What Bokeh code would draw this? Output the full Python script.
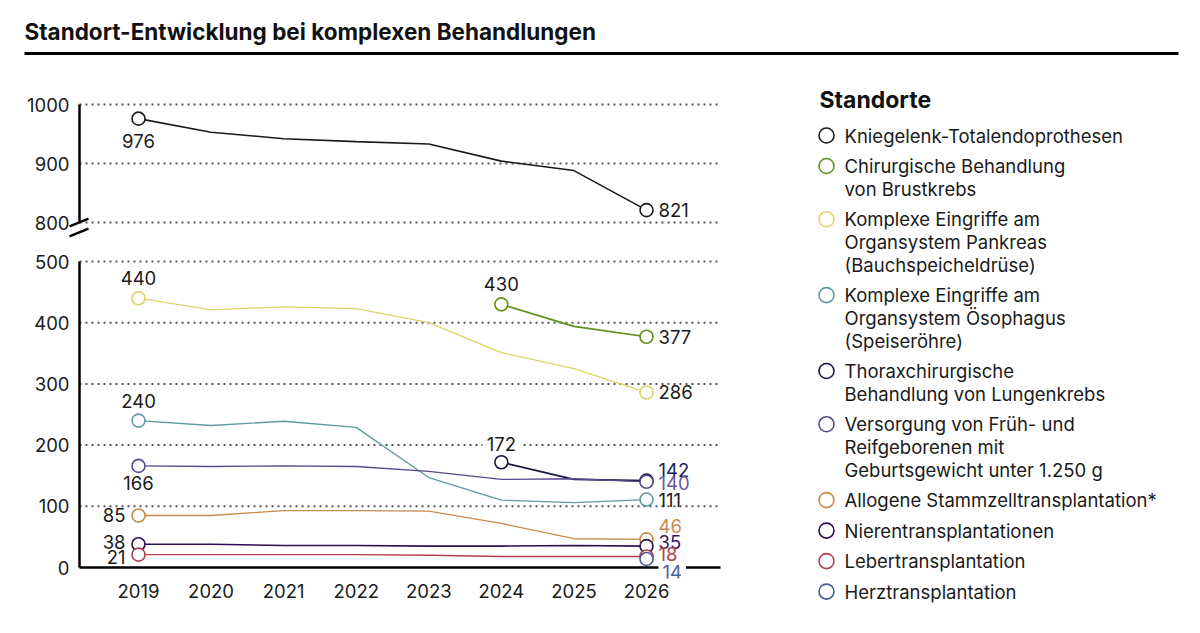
from bokeh.plotting import figure
from bokeh.layouts import column, row
from bokeh.models import Range1d, FixedTicker, Label
from bokeh.core.properties import value
from bokeh.embed import file_html
from bokeh.resources import INLINE
import math

NaN = float("nan")

# ---------------- data ----------------
years = [2019, 2020, 2021, 2022, 2023, 2024, 2025, 2026]
knie = [976, 953, 942, 937, 933, 904, 888, 821]
brust = [NaN, NaN, NaN, NaN, NaN, 430, 394, 377]
pankreas = [440, 421, 426, 423, 400, 351, 325, 286]
oesophagus = [240, 232, 239, 229, 147, 110, 106, 111]
thorax = [NaN, NaN, NaN, NaN, NaN, 172, 144, 142]
versorgung = [166, 165, 166, 165, 157, 144, 145, 140]
allogene = [85, 85, 93, 93, 92, 72, 47, 46]
nieren = [38, 38, 36, 36, 35, 35, 36, 35]
leber = [21, 21, 21, 21, 20, 18, 18, 18]
herz = [NaN, NaN, NaN, NaN, NaN, NaN, NaN, 14]

series_names = [
    "Kniegelenk-Totalendoprothesen",
    "Chirurgische Behandlung\nvon Brustkrebs",
    "Komplexe Eingriffe am\nOrgansystem Pankreas\n(Bauchspeicheldrüse)",
    "Komplexe Eingriffe am\nOrgansystem Ösophagus\n(Speiseröhre)",
    "Thoraxchirurgische\nBehandlung von Lungenkrebs",
    "Versorgung von Früh- und\nReifgeborenen mit\nGeburtsgewicht unter 1.250 g",
    "Allogene Stammzelltransplantation*",
    "Nierentransplantationen",
    "Lebertransplantation",
    "Herztransplantation",
]
upper_ticks = [800, 900, 1000]
lower_ticks = [0, 100, 200, 300, 400, 500]
title_text = "Standort-Entwicklung bei komplexen Behandlungen"
legend_title = "Standorte"

# ---------------- styles ----------------
FONT = "Inter"
FS = "18.5px"
INK = "#1a1a1a"
colors = ["#1a1a1a", "#5f8f1a", "#ddd36a", "#5e9ba0", "#15173f",
          "#5a4a8c", "#c98a4b", "#2d0f4f", "#b0404c", "#4b5a99"]
end_label_colors = [INK, INK, INK, INK, "#1d1b5e", "#6a5aa0",
                    "#c98a4b", "#3a155f", "#b0404c", "#4b5fa0"]
# (align, x_offset, y_offset[screen px, +down], white box) for first-point labels
start_label_style = [("center", 0, 22, False), ("center", 0, -20, False), ("center", 0, -20, False),
                     ("center", 0, -20, False), ("center", 0, -18, True), ("center", 0, 17, False),
                     ("right", -13, 0, False), ("right", -13, -2, False), ("right", -13, 2, False), None]
end_label_dy = [0, 0, 0, 0, -11, 1, -13, -4, -2, 13]
end_label_box = [False] * 9 + [True]
panel = ["upper"] + ["lower"] * 9
all_series = [knie, brust, pankreas, oesophagus, thorax, versorgung,
              allogene, nieren, leber, herz]

# ---------------- geometry (page px) ----------------
PAGE_W = 1192
CHART_W = 798
FRAME_L, FRAME_R = 66, 730
PX_2019, PX_2026 = 138, 646
AXIS_PX, GRID_END_PX = 79, 720
ppy = (PX_2026 - PX_2019) / 7.0
x_start = 2019 - (PX_2019 - FRAME_L) / ppy
x_end = x_start + (FRAME_R - FRAME_L) / ppy
axis_x = 2019 - (PX_2019 - AXIS_PX) / ppy
grid_end = 2026 + (GRID_END_PX - PX_2026) / ppy

HDR_H = 60
# upper panel: figure page y 60..245, frame 90..240; 1000 -> 104, 800 -> 222
U_TOP, U_H, U_FT, U_FB = HDR_H, 185, 90, 240
ppu_u = (222 - 104) / 200.0
u_top = 1000 + (104 - U_FT) / ppu_u
u_bot = 800 - (U_FB - 222) / ppu_u
# lower panel: figure page y 245..620, frame 250..578; 500 -> 261, 0 -> 567
L_TOP, L_H, L_FT, L_FB = U_TOP + U_H, 375, 250, 578
ppu_l = (567 - 261) / 500.0
l_top = 500 + (261 - L_FT) / ppu_l
l_bot = 0 - (L_FB - 567) / ppu_l

xr = Range1d(x_start, x_end)


def chart_fig(height, yr, top, bottom, xaxis):
    p = figure(width=CHART_W, height=height, x_range=xr, y_range=yr,
               output_backend="svg", toolbar_location=None,
               x_axis_location="below" if xaxis else None,
               min_border_left=FRAME_L, min_border_right=CHART_W - FRAME_R,
               min_border_top=top, min_border_bottom=bottom)
    p.outline_line_color = None
    p.grid.visible = False
    p.background_fill_color = "white"
    p.border_fill_color = "white"
    ax = p.yaxis[0]
    ax.axis_line_color = None
    ax.major_tick_line_color = None
    ax.minor_tick_line_color = None
    ax.major_tick_out = 0
    ax.major_tick_in = 0
    ax.major_label_text_font = FONT
    ax.major_label_text_font_size = FS
    ax.major_label_text_color = INK
    ax.major_label_standoff = -3
    return p


p1 = chart_fig(U_H, Range1d(u_bot, u_top), U_FT - U_TOP, U_TOP + U_H - U_FB, False)
p1.yaxis.ticker = FixedTicker(ticks=upper_ticks)
p2 = chart_fig(L_H, Range1d(l_bot, l_top), L_FT - L_TOP, L_TOP + L_H - L_FB, True)
p2.yaxis.ticker = FixedTicker(ticks=lower_ticks)
xa = p2.xaxis[0]
xa.ticker = FixedTicker(ticks=years)
xa.axis_line_color = None
xa.major_tick_line_color = None
xa.minor_tick_line_color = None
xa.major_tick_out = 0
xa.major_tick_in = 0
xa.major_label_text_font = FONT
xa.major_label_text_font_size = FS
xa.major_label_text_color = INK
xa.major_label_standoff = 5

GRID_STYLE = dict(line_dash="2 4", line_width=2, line_color="#555555", level="image")
AXIS_STYLE = dict(line_color="black", line_width=2.5, level="image")
# gridlines
p1.segment(x0=[axis_x] * 3, y0=upper_ticks, x1=[grid_end] * 3, y1=upper_ticks, **GRID_STYLE)
p2.segment(x0=[axis_x] * 5, y0=lower_ticks[1:], x1=[grid_end] * 5, y1=lower_ticks[1:], **GRID_STYLE)
# axis lines
p1.segment(x0=[axis_x], y0=[upper_ticks[0]], x1=[axis_x], y1=[upper_ticks[-1]], **AXIS_STYLE)
p2.segment(x0=[axis_x], y0=[lower_ticks[0]], x1=[axis_x], y1=[lower_ticks[-1]], **AXIS_STYLE)
p2.segment(x0=[axis_x], y0=[0], x1=[grid_end], y1=[0], **AXIS_STYLE)
# axis break marks
dxb = 9.5 / ppy
dyb = 3.8 / ppu_u
gap = 10 / ppu_u
bx = axis_x - 0.5 / ppy
p1.segment(x0=[bx - dxb, bx - dxb], y0=[800 - dyb, 800 - gap - dyb],
           x1=[bx + dxb, bx + dxb], y1=[800 + dyb, 800 - gap + dyb],
           line_color="black", line_width=2.5)

LABEL = dict(text_font=value(FONT), text_font_size=FS, text_baseline="middle")


def put_label(p, x, y, txt, align, xo, yo, color, box):
    if box:
        p.add_layout(Label(x=x, y=y, text=txt, text_align=align, x_offset=xo, y_offset=-yo,
                           text_color=color, text_font=FONT, text_font_size=FS,
                           text_baseline="middle", background_fill_color="white",
                           padding=4, level="underlay"))
    else:
        p.text(x=[x], y=[y], text=[txt], text_align=align, x_offset=xo, y_offset=yo,
               text_color=color, **LABEL)


for i, vals in enumerate(all_series):
    p = p1 if panel[i] == "upper" else p2
    col = colors[i]
    lw = 1.6 if i in (0, 1, 4, 7) else 1.3
    p.line(years, vals, line_color=col, line_width=lw)
    idx = [k for k, v in enumerate(vals) if not math.isnan(v)]
    pts = sorted(set([idx[0], idx[-1]]))
    p.scatter([years[k] for k in pts], [vals[k] for k in pts], marker="circle",
              size=13, fill_color="white", line_color=col, line_width=1.6)

for i, vals in enumerate(all_series):
    p = p1 if panel[i] == "upper" else p2
    idx = [k for k, v in enumerate(vals) if not math.isnan(v)]
    first, last = idx[0], idx[-1]
    st = start_label_style[i]
    if st is not None and first != last:
        put_label(p, years[first], vals[first], str(vals[first]), st[0], st[1], st[2], INK, st[3])
    put_label(p, years[last], vals[last], str(vals[last]), "left", 12, end_label_dy[i],
              end_label_colors[i], end_label_box[i])

# ---------------- header ----------------
hdr = figure(width=PAGE_W, height=HDR_H, x_range=Range1d(0, PAGE_W), y_range=Range1d(HDR_H, 0),
             output_backend="svg", toolbar_location=None,
             x_axis_location=None, y_axis_location=None, min_border=0,
             min_border_left=0, min_border_right=0, min_border_top=0, min_border_bottom=0)
hdr.outline_line_color = None
hdr.grid.visible = False
hdr.text(x=[24], y=[30.5], text=[title_text], text_font=value(FONT),
         text_font_size="22.5px", text_font_style="bold", text_color="#111111",
         text_baseline="middle", text_align="left")
hdr.segment(x0=[24], y0=[53], x1=[1178], y1=[53], line_color="black", line_width=3)

# ---------------- legend ----------------
LEG_W = PAGE_W - CHART_W
LEG_H = U_H + L_H
leg = figure(width=LEG_W, height=LEG_H, x_range=Range1d(0, LEG_W), y_range=Range1d(LEG_H, 0),
             output_backend="svg", toolbar_location=None,
             x_axis_location=None, y_axis_location=None, min_border=0,
             min_border_left=0, min_border_right=0, min_border_top=0, min_border_bottom=0)
leg.outline_line_color = None
leg.grid.visible = False
ox = CHART_W
oy = U_TOP
leg.text(x=[819 - ox], y=[99.5 - oy], text=[legend_title], text_font=value(FONT),
         text_font_size="23px", text_font_style="bold", text_color="#111111",
         text_baseline="middle", text_align="left")
line_h, item_gap = 22.7, 30.5
y = 135 - oy
cy, ccol = [], []
lx, ly, lt = [], [], []
for i, name in enumerate(series_names):
    lines = name.split("\n")
    cy.append(y)
    ccol.append(colors[i])
    for j, ln in enumerate(lines):
        lx.append(844 - ox)
        ly.append(y + j * line_h)
        lt.append(ln)
    y += (len(lines) - 1) * line_h + item_gap
leg.scatter([826 - ox] * len(cy), cy, marker="circle", size=15, fill_color="white",
            line_color=ccol, line_width=1.6)
leg.text(x=lx, y=ly, text=lt, text_font=value(FONT), text_font_size=FS,
         text_color=INK, text_baseline="middle", text_align="left")

layout = column(hdr, row(column(p1, p2), leg))
open("out.html", "w").write(file_html(layout, INLINE))
